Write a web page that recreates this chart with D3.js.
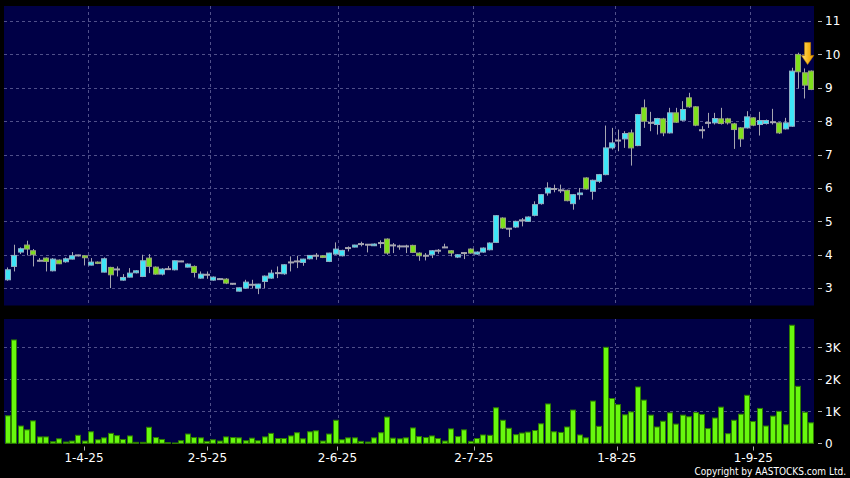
<!DOCTYPE html>
<html>
<head>
<meta charset="utf-8">
<script src="https://cdn.jsdelivr.net/npm/d3@7"></script>
<style>
  html, body { margin: 0; padding: 0; background: #000; }
  svg { display: block; }
  text { font-family: "DejaVu Sans", sans-serif; }
</style>
</head>
<body>
<svg id="chart" width="850" height="478"></svg>
<script>
// ---------------- DATA ----------------
const dates = [
  "2025-03-13","2025-03-14","2025-03-17","2025-03-18","2025-03-19","2025-03-20","2025-03-21","2025-03-24","2025-03-25","2025-03-26","2025-03-27","2025-03-28","2025-03-31",
  "2025-04-01","2025-04-02","2025-04-03","2025-04-07","2025-04-08","2025-04-09","2025-04-10","2025-04-11","2025-04-14","2025-04-15","2025-04-16","2025-04-17","2025-04-22","2025-04-23","2025-04-24","2025-04-25","2025-04-28","2025-04-29","2025-04-30",
  "2025-05-02","2025-05-06","2025-05-07","2025-05-08","2025-05-09","2025-05-12","2025-05-13","2025-05-14","2025-05-15","2025-05-16","2025-05-19","2025-05-20","2025-05-21","2025-05-22","2025-05-23","2025-05-26","2025-05-27","2025-05-28","2025-05-29","2025-05-30",
  "2025-06-02","2025-06-03","2025-06-04","2025-06-05","2025-06-06","2025-06-09","2025-06-10","2025-06-11","2025-06-12","2025-06-13","2025-06-16","2025-06-17","2025-06-18","2025-06-19","2025-06-20","2025-06-23","2025-06-24","2025-06-25","2025-06-26","2025-06-27","2025-06-30",
  "2025-07-02","2025-07-03","2025-07-04","2025-07-07","2025-07-08","2025-07-09","2025-07-10","2025-07-11","2025-07-14","2025-07-15","2025-07-16","2025-07-17","2025-07-18","2025-07-21","2025-07-22","2025-07-23","2025-07-24","2025-07-25","2025-07-28","2025-07-29","2025-07-30","2025-07-31",
  "2025-08-01","2025-08-04","2025-08-05","2025-08-06","2025-08-07","2025-08-08","2025-08-11","2025-08-12","2025-08-13","2025-08-14","2025-08-15","2025-08-18","2025-08-19","2025-08-20","2025-08-21","2025-08-22","2025-08-25","2025-08-26","2025-08-27","2025-08-28","2025-08-29",
  "2025-09-01","2025-09-02","2025-09-03","2025-09-04","2025-09-05","2025-09-08","2025-09-09","2025-09-10","2025-09-11","2025-09-12"
];

const open = [
  3.25,3.65,4.08,4.29,4.12,3.82,3.90,3.52,3.84,3.79,3.87,3.98,3.97,
  3.69,3.78,3.48,3.62,3.56,3.24,3.33,3.46,3.35,3.90,3.63,3.42,3.57,3.55,3.80,3.63,3.65,3.30,3.40,
  3.24,3.27,3.27,3.13,2.91,3.00,3.10,3.00,3.20,3.30,3.45,3.43,3.77,3.80,3.77,3.88,3.97,3.97,
  3.80,4.02,3.97,4.20,4.23,4.32,4.30,4.27,4.35,4.47,4.28,4.25,4.25,4.28,4.05,3.97,4.00,4.12,4.22,4.12,3.93,4.05,4.17,
  4.02,4.08,4.15,4.37,5.10,4.78,4.83,5.03,5.00,5.18,5.53,5.85,5.97,5.93,5.93,5.53,5.80,6.30,5.90,6.20,
  6.40,7.20,7.42,7.47,7.65,7.27,8.40,7.95,7.90,8.07,7.65,8.25,8.03,8.70,8.43,7.73,7.95,7.95,8.07,8.07,7.92,7.80,7.80,
  8.10,7.90,7.93,7.97,7.95,7.77,7.85,10.00,9.45,9.50
];
const high = [
  3.62,4.30,4.22,4.42,4.17,3.90,3.92,3.90,3.86,3.92,4.08,4.00,3.98,
  3.90,3.80,3.92,3.64,3.65,3.42,3.60,3.54,4.00,4.02,3.65,3.60,3.66,3.83,3.82,3.74,3.68,3.50,3.50,
  3.35,3.30,3.30,3.15,3.02,3.25,3.25,3.13,3.38,3.55,3.65,3.72,3.95,3.97,3.88,3.99,4.05,3.99,
  4.06,4.37,4.15,4.25,4.30,4.39,4.32,4.34,4.43,4.49,4.35,4.30,4.30,4.30,4.07,4.05,4.14,4.17,4.33,4.14,4.02,4.08,4.19,
  4.10,4.22,4.37,5.19,5.12,4.80,5.02,5.10,5.15,5.60,5.82,6.17,6.10,6.10,5.95,5.82,6.00,6.32,6.25,6.42,
  7.87,7.80,7.75,7.70,7.75,8.22,8.65,8.28,8.10,8.10,8.40,8.40,8.60,8.85,8.45,7.85,8.25,8.25,8.40,8.10,7.95,7.82,8.30,
  8.12,8.28,8.05,8.37,7.97,8.10,9.60,10.05,9.58,9.52
];
const low = [
  3.22,3.50,4.02,3.98,3.65,3.80,3.50,3.50,3.72,3.76,3.86,3.95,3.68,
  3.68,3.72,3.47,3.00,3.35,3.22,3.32,3.44,3.33,3.45,3.40,3.38,3.55,3.53,3.78,3.62,3.32,3.28,3.28,
  3.22,3.25,3.12,3.10,2.90,2.98,3.00,2.82,3.00,3.28,3.30,3.40,3.50,3.60,3.67,3.86,3.85,3.90,
  3.78,4.00,3.95,4.10,4.22,4.25,4.07,4.26,4.20,4.00,4.05,4.15,4.05,4.05,3.82,3.83,3.90,4.03,4.20,3.95,3.90,3.87,4.03,
  4.00,4.06,4.13,4.35,4.77,4.53,4.80,4.85,4.98,5.15,5.50,5.77,5.87,5.85,5.60,5.35,5.65,5.95,5.65,6.15,
  6.38,7.15,7.10,7.20,6.67,7.25,7.80,7.70,7.60,7.55,7.63,7.95,8.00,8.40,7.85,7.48,7.80,7.90,7.90,7.90,7.17,7.23,7.78,
  7.85,7.57,7.90,7.90,7.62,7.75,7.83,8.98,8.68,8.93
];
const close = [
  3.55,3.98,4.18,4.17,4.00,3.82,3.80,3.87,3.73,3.88,3.97,3.98,3.91,
  3.78,3.74,3.88,3.40,3.56,3.32,3.45,3.52,3.82,3.65,3.42,3.57,3.57,3.82,3.80,3.72,3.47,3.42,3.40,
  3.33,3.27,3.15,3.13,3.01,3.18,3.10,3.12,3.36,3.45,3.45,3.70,3.77,3.80,3.87,3.98,3.97,3.92,
  4.05,4.17,4.13,4.20,4.29,4.32,4.30,4.32,4.35,4.05,4.28,4.25,4.25,4.07,3.97,3.97,4.12,4.12,4.22,4.05,4.00,4.05,4.05,
  4.08,4.20,4.35,5.17,4.80,4.78,5.00,5.03,5.13,5.50,5.80,6.00,5.97,5.93,5.62,5.80,5.85,5.97,6.23,6.40,
  7.20,7.35,7.42,7.63,7.20,8.20,8.00,7.95,8.08,7.65,8.25,7.97,8.35,8.43,7.88,7.73,7.95,8.08,7.93,7.95,7.75,7.47,8.13,
  7.88,8.02,8.02,7.97,7.65,7.95,9.50,9.48,9.08,8.95
];
// volume in thousands of shares
const volume = [
  0.86,3.23,0.54,0.42,0.70,0.20,0.20,0.05,0.14,0.04,0.07,0.25,0.07,
  0.36,0.11,0.17,0.31,0.24,0.12,0.23,0.03,0.03,0.50,0.18,0.12,0.02,0.01,0.08,0.29,0.18,0.17,0.06,
  0.11,0.07,0.20,0.18,0.17,0.08,0.16,0.08,0.20,0.31,0.15,0.15,0.23,0.33,0.14,0.36,0.39,0.07,
  0.29,0.72,0.11,0.17,0.17,0.06,0.04,0.17,0.33,0.82,0.16,0.14,0.17,0.48,0.21,0.18,0.23,0.15,0.07,0.45,0.21,0.42,0.06,
  0.15,0.26,0.25,1.11,0.72,0.47,0.27,0.32,0.35,0.40,0.61,1.23,0.36,0.34,0.51,1.04,0.26,0.17,1.32,0.53,
  3.00,1.40,1.21,0.89,0.98,1.76,1.35,0.88,0.51,0.69,0.95,0.60,0.88,0.83,0.96,0.90,0.46,0.79,1.13,0.30,0.72,0.91,1.50,
  0.68,1.09,0.54,0.85,1.00,0.58,3.69,1.78,0.97,0.64
];

const priceTicks = [3,4,5,6,7,8,9,10,11];
const volTicks = [0,1,2,3];
const volTickLabels = ["0","1K","2K","3K"];
const monthStarts = ["2025-04-01","2025-05-02","2025-06-02","2025-07-02","2025-08-01","2025-09-01"];
const monthLabels = ["1-4-25","2-5-25","2-6-25","2-7-25","1-8-25","1-9-25"];
const copyright = "Copyright by AASTOCKS.com Ltd.";

// ---------------- LAYOUT ----------------
const W = 850, H = 478;
const L = 4, R = 814;
const mainTop = 6, mainBot = 305.5;
const volTop = 319, volBot = 443.5;

const C = {
  panel: "#000046",
  grid: "#50508a",
  up: "#3ee6f7", upStroke: "#8fb0c4",
  down: "#7ee01c", downStroke: "#98a47a",
  doji: "#a6a6b0", wick: "#a6a6b0",
  vol: "#68f80e", volStroke: "#2d7d00",
  text: "#ffffff", tick: "#b0b0b0"
};

const svg = d3.select("#chart");
svg.append("rect").attr("width", W).attr("height", H).attr("fill", "#000");

const N = dates.length;
const data = dates.map((d, i) => ({d, o: open[i], h: high[i], l: low[i], c: close[i], v: volume[i]}));

const x = d3.scaleBand().domain(dates).range([L, R]).paddingInner(0).paddingOuter(0);
const step = x.step();
const bodyW = 5;
const y = d3.scaleLinear().domain([2.48, 11.45]).range([mainBot, mainTop]);
const yv = d3.scaleLinear().domain([0, 3.885]).range([volBot - 0.2, volTop]);
// label scale for month ticks (the source places them on a slightly wider track)
const xLab = d3.scaleLinear().domain([0, N]).range([L - 4.5, R + 4.3]);

// panels
svg.append("rect").attr("x", L).attr("y", mainTop).attr("width", R - L).attr("height", mainBot - mainTop).attr("fill", C.panel);
svg.append("rect").attr("x", L).attr("y", volTop).attr("width", R - L).attr("height", volBot - volTop).attr("fill", C.panel);

// grid: horizontal
svg.append("g").selectAll("line").data(priceTicks).join("line")
  .attr("x1", L).attr("x2", R)
  .attr("y1", d => Math.round(y(d)) + 0.5).attr("y2", d => Math.round(y(d)) + 0.5)
  .attr("stroke", C.grid).attr("stroke-dasharray", "3,3").attr("stroke-width", 1);
svg.append("g").selectAll("line").data(volTicks.slice(1)).join("line")
  .attr("x1", L).attr("x2", R)
  .attr("y1", d => Math.round(yv(d)) + 0.5).attr("y2", d => Math.round(yv(d)) + 0.5)
  .attr("stroke", C.grid).attr("stroke-dasharray", "3,3").attr("stroke-width", 1);
// grid: vertical at month starts
[[mainTop, mainBot], [volTop, volBot]].forEach(([t, b]) => {
  svg.append("g").selectAll("line").data(monthStarts).join("line")
    .attr("x1", d => Math.round(x(d)) + 0.5).attr("x2", d => Math.round(x(d)) + 0.5)
    .attr("y1", t).attr("y2", b)
    .attr("stroke", C.grid).attr("stroke-dasharray", "3,3").attr("stroke-width", 1);
});

// ---------------- CANDLES ----------------
const gC = svg.append("g");
gC.selectAll("line.wick").data(data).join("line")
  .attr("class", "wick")
  .attr("x1", d => Math.round(x(d.d) + step / 2) + 0.5)
  .attr("x2", d => Math.round(x(d.d) + step / 2) + 0.5)
  .attr("y1", d => y(d.h)).attr("y2", d => y(d.l))
  .attr("stroke", C.wick).attr("stroke-width", 1);
gC.selectAll("rect.body").data(data.filter(d => d.c !== d.o)).join("rect")
  .attr("class", "body")
  .attr("x", d => Math.round(x(d.d) + step / 2 - bodyW / 2) + 0.5)
  .attr("width", bodyW)
  .attr("y", d => y(Math.max(d.o, d.c)))
  .attr("height", d => Math.max(1, Math.abs(y(d.o) - y(d.c))))
  .attr("fill", d => d.c > d.o ? C.up : C.down)
  .attr("stroke", d => d.c > d.o ? C.upStroke : C.downStroke)
  .attr("stroke-width", 1);
gC.selectAll("line.doji").data(data.filter(d => d.c === d.o)).join("line")
  .attr("class", "doji")
  .attr("x1", d => Math.round(x(d.d) + step / 2 - bodyW / 2))
  .attr("x2", d => Math.round(x(d.d) + step / 2 + bodyW / 2) + 1)
  .attr("y1", d => y(d.o)).attr("y2", d => y(d.o))
  .attr("stroke", C.doji).attr("stroke-width", 2);

// ---------------- VOLUME ----------------
svg.append("g").selectAll("rect").data(data).join("rect")
  .attr("x", d => Math.round(x(d.d) + step / 2 - bodyW / 2) + 0.5)
  .attr("width", bodyW)
  .attr("y", d => yv(d.v))
  .attr("height", d => Math.max(0.5, yv(0) - yv(d.v)))
  .attr("fill", C.vol).attr("stroke", C.volStroke).attr("stroke-width", 1);

// ---------------- AXES ----------------
const yAxisG = svg.append("g");
yAxisG.selectAll("line").data(priceTicks).join("line")
  .attr("x1", 818).attr("x2", 822)
  .attr("y1", d => Math.round(y(d)) + 0.5).attr("y2", d => Math.round(y(d)) + 0.5)
  .attr("stroke", C.tick);
yAxisG.selectAll("text").data(priceTicks).join("text")
  .attr("x", 825).attr("y", d => y(d)).attr("dy", "0.36em")
  .attr("fill", C.text).attr("font-size", 12).text(d => d);

const vAxisG = svg.append("g");
vAxisG.selectAll("line").data(volTicks).join("line")
  .attr("x1", 818).attr("x2", 822)
  .attr("y1", d => Math.round(yv(d)) + 0.5).attr("y2", d => Math.round(yv(d)) + 0.5)
  .attr("stroke", C.tick);
vAxisG.selectAll("text").data(volTicks).join("text")
  .attr("x", 825).attr("y", d => yv(d)).attr("dy", "0.36em")
  .attr("fill", C.text).attr("font-size", 12).text((d, i) => volTickLabels[i]);

const xAxisG = svg.append("g");
xAxisG.selectAll("line").data(monthStarts).join("line")
  .attr("x1", d => Math.round(xLab(dates.indexOf(d))) + 0.5)
  .attr("x2", d => Math.round(xLab(dates.indexOf(d))) + 0.5)
  .attr("y1", 446.5).attr("y2", 450.5)
  .attr("stroke", C.tick);
xAxisG.selectAll("text").data(monthStarts).join("text")
  .attr("x", d => xLab(dates.indexOf(d)))
  .attr("y", 461.5).attr("text-anchor", "middle")
  .attr("fill", C.text).attr("font-size", 12)
  .text((d, i) => monthLabels[i]);

// copyright
svg.append("text").attr("x", 846).attr("y", 474.5).attr("text-anchor", "end")
  .attr("fill", C.text).attr("font-size", 10)
  .attr("font-family", "'DejaVu Sans Condensed', 'DejaVu Sans', sans-serif")
  .attr("font-stretch", "condensed")
  .text(copyright);

// ---------------- LATEST-BAR ARROW ----------------
const defs = svg.append("defs");
const grad = defs.append("linearGradient").attr("id", "arrowGrad")
  .attr("x1", "0%").attr("x2", "100%").attr("y1", "0%").attr("y2", "0%");
grad.append("stop").attr("offset", "0%").attr("stop-color", "#ffe27a");
grad.append("stop").attr("offset", "55%").attr("stop-color", "#f7b81c");
grad.append("stop").attr("offset", "100%").attr("stop-color", "#e89a00");
const last = data[N - 1];
const ax = x(last.d);
const tipY = y(Math.max(last.h, data[N - 2].h)) - 4;
const arrowPath = d3.path();
arrowPath.moveTo(ax - 3, tipY - 22);
arrowPath.lineTo(ax + 3, tipY - 22);
arrowPath.lineTo(ax + 3, tipY - 9);
arrowPath.lineTo(ax + 6.2, tipY - 9);
arrowPath.lineTo(ax, tipY);
arrowPath.lineTo(ax - 6.2, tipY - 9);
arrowPath.lineTo(ax - 3, tipY - 9);
arrowPath.closePath();
svg.append("path").attr("d", arrowPath.toString())
  .attr("fill", "url(#arrowGrad)").attr("stroke", "#c88400").attr("stroke-width", 0.6);
</script>
</body>
</html>
